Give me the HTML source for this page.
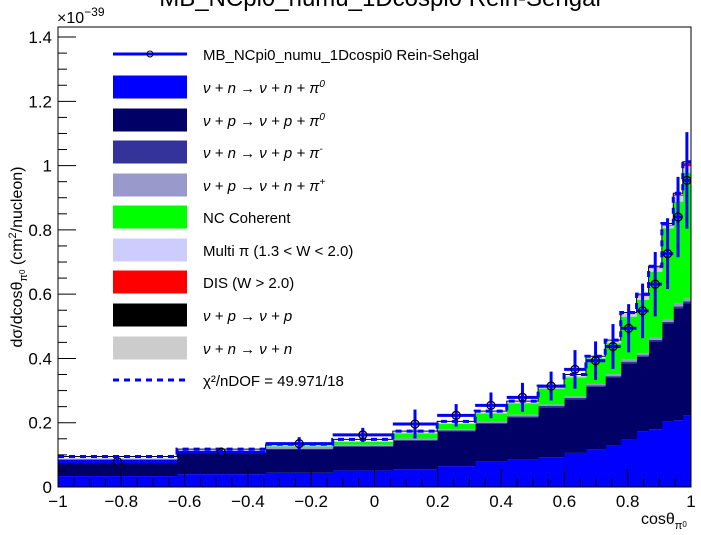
<!DOCTYPE html>
<html><head><meta charset="utf-8">
<style>
html,body{margin:0;padding:0;background:#fff;}
svg{display:block;font-family:"Liberation Sans",sans-serif;}
</style></head>
<body>
<svg id="chart" width="701" height="535" viewBox="0 0 701 535" xmlns="http://www.w3.org/2000/svg">
<text x="380" y="6" text-anchor="middle" font-size="24">MB_NCpi0_numu_1Dcospi0 Rein-Sehgal</text>
<g id="bars"></g>
<g id="mcline"></g>
<g id="data"></g>
<g id="axes"></g>
<g id="legend"></g>
<text x="57" y="23" font-size="16">×10<tspan dy="-7" font-size="12">−39</tspan></text>
<text transform="translate(22,257) rotate(-90)" text-anchor="middle" font-size="16">dσ/dcosθ<tspan dy="5" font-size="11">π</tspan><tspan dy="-2" font-size="8">0</tspan><tspan dy="-3" font-size="16"> (cm</tspan><tspan dy="-6" font-size="11">2</tspan><tspan dy="6" font-size="16">/nucleon)</tspan></text>
<text x="641" y="524" font-size="16">cosθ<tspan dy="5" font-size="11">π</tspan><tspan dy="-2" font-size="8">0</tspan></text>
</svg>
<script>
const edges=[-1,-0.624,-0.344,-0.132,0.058,0.198,0.318,0.418,0.517,0.599,0.668,0.729,0.778,0.828,0.866,0.908,0.944,0.974,1];
const nPi0n=[0.034,0.040,0.044,0.051,0.055,0.065,0.079,0.087,0.093,0.106,0.118,0.128,0.148,0.173,0.180,0.204,0.208,0.222];
const nPi0p=[0.050,0.065,0.073,0.074,0.089,0.108,0.117,0.129,0.155,0.167,0.194,0.213,0.237,0.232,0.273,0.305,0.348,0.350];
const nPiMinus=[0.002,0.002,0.002,0.003,0.003,0.003,0.003,0.004,0.004,0.004,0.004,0.004,0.005,0.005,0.005,0.005,0.006,0.006];
const nPiPlus=[0.002,0.003,0.003,0.004,0.004,0.004,0.005,0.005,0.005,0.005,0.006,0.006,0.006,0.006,0.007,0.007,0.008,0.008];
const coherent=[0.000,0.000,0.004,0.008,0.016,0.016,0.025,0.035,0.049,0.059,0.078,0.096,0.134,0.166,0.205,0.284,0.318,0.392];
const multiPi=[0.003,0.004,0.003,0.004,0.003,0.004,0.003,0.003,0.004,0.005,0.003,0.006,0.008,0.012,0.011,0.008,0.018,0.020];
const dis=[0,0,0,0,0,0,0,0,0,0,0,0,0.001,0.002,0.002,0.003,0.004,0.010];
const dataVal=[0.079,0.108,0.135,0.162,0.196,0.223,0.254,0.279,0.314,0.366,0.393,0.437,0.494,0.548,0.631,0.726,0.840,0.954];
const dataErr=[0.010,0.015,0.020,0.022,0.045,0.035,0.040,0.045,0.045,0.060,0.060,0.070,0.075,0.085,0.100,0.110,0.125,0.150];
const yTicks=[0,0.2,0.4,0.6,0.8,1,1.2,1.4];
const xTicks=[-1,-0.8,-0.6,-0.4,-0.2,0,0.2,0.4,0.6,0.8,1];
const xTickLabels=["−1","−0.8","−0.6","−0.4","−0.2","0","0.2","0.4","0.6","0.8","1"];
const yTickLabels=["0","0.2","0.4","0.6","0.8","1","1.2","1.4"];

const NS="http://www.w3.org/2000/svg";
const X0=58,X1=691,Y0=487,YT=27;
const xs=v=>X0+(v+1)/2*(X1-X0);
const ys=v=>Y0-v*321.4;
function mk(tag,attrs,parent){const e=document.createElementNS(NS,tag);for(const k in attrs)e.setAttribute(k,attrs[k]);parent.appendChild(e);return e;}

const layers=[[nPi0n,"#0000ff","pi0-n"],[nPi0p,"#000066","pi0-p"],[nPiMinus,"#333399","piminus"],[nPiPlus,"#9999cc","piplus"],[coherent,"#00ff00","coherent"],[multiPi,"#ccccff","multipi"],[dis,"#ff0000","dis"]];
const bars=document.getElementById("bars");
const cum=new Array(dataVal.length).fill(0);
layers.forEach(([arr,col,nm])=>{
  for(let i=0;i<arr.length;i++){
    const lo=cum[i],hi=cum[i]+arr[i];cum[i]=hi;
    if(arr[i]<=0)continue;
    const r=mk("rect",{x:xs(edges[i]),y:ys(hi),width:xs(edges[i+1])-xs(edges[i])+0.5,height:ys(lo)-ys(hi),fill:col},bars);
    
    
  }
});
// MC total dashed line
let d="";
for(let i=0;i<cum.length;i++){const y=ys(cum[i]+0.004);d+=(i==0?"M":"L")+xs(edges[i])+","+y+"L"+xs(edges[i+1])+","+y;}
const ml=document.getElementById("mcline");
const bl=mk("path",{d:d,fill:"none",stroke:"#000",'stroke-width':1},ml);


const dl=mk("path",{d:d,fill:"none",stroke:"#0000ff",'stroke-width':3,'stroke-dasharray':"6,5"},ml);



// data
const dg=document.getElementById("data");
for(let i=0;i<dataVal.length;i++){
  const cx=(xs(edges[i])+xs(edges[i+1]))/2,cy=ys(dataVal[i]);
  const g=mk("g",{},dg);
  
  
  mk("line",{x1:xs(edges[i]),x2:xs(edges[i+1]),y1:cy,y2:cy,stroke:"#0000ff",'stroke-width':3},g);
  mk("line",{x1:cx,x2:cx,y1:ys(dataVal[i]-dataErr[i]),y2:ys(dataVal[i]+dataErr[i]),stroke:"#0000ff",'stroke-width':3},g);
  mk("circle",{cx:cx,cy:cy,r:4,fill:"none",stroke:"#000",'stroke-width':1.3},g);
}

// axes
const ax=document.getElementById("axes");
mk("rect",{x:X0,y:YT,width:X1-X0,height:Y0-YT,fill:"none",stroke:"#000",'stroke-width':1},ax);
for(let v=0;v<=1.4001;v+=0.05){const y=ys(v);const major=Math.abs(v/0.2-Math.round(v/0.2))<1e-6;mk("line",{x1:X0,x2:X0+(major?18:9),y1:y,y2:y,stroke:"#000"},ax);}
yTicks.forEach((v,i)=>{const t=mk("text",{x:X0-6,y:ys(v)+6,'text-anchor':"end",'font-size':17},ax);t.textContent=yTickLabels[i];
  
  });
for(let k=0;k<=40;k++){const v=-1+k*0.05;const x=xs(v);const major=k%4==0;mk("line",{x1:x,x2:x,y1:Y0,y2:Y0-(major?18:9),stroke:"#000"},ax);}
xTicks.forEach((v,i)=>{const t=mk("text",{x:xs(v),y:Y0+20,'text-anchor':"middle",'font-size':17},ax);t.textContent=xTickLabels[i];
  
  });

// legend
const lg=document.getElementById("legend");
const leg=[["line","MB_NCpi0_numu_1Dcospi0 Rein-Sehgal",""],["#0000ff","ν + n → ν + n + π","0"],["#000066","ν + p → ν + p + π","0"],["#333399","ν + n → ν + p + π","-"],["#9999cc","ν + p → ν + n + π","+"],["#00ff00","NC Coherent",""],["#ccccff","Multi π (1.3 < W < 2.0)",""],["#ff0000","DIS (W > 2.0)",""],["#000000","ν + p → ν + p",""],["#cccccc","ν + n → ν + n",""],["dash","χ²/nDOF = 49.971/18",""]];
const rowsY=[54,87,120,152,185,217,250,282,315,348,380];
leg.forEach((e,i)=>{
  const y=rowsY[i];
  const g=mk("g",{},lg);
  
  
  if(e[0]=="line"){mk("line",{x1:113,x2:187,y1:y,y2:y,stroke:"#0000ff",'stroke-width':3},g);mk("circle",{cx:150,cy:y,r:3,fill:"none",stroke:"#000"},g);}
  else if(e[0]=="dash"){mk("line",{x1:113,x2:187,y1:y,y2:y,stroke:"#0000ff",'stroke-width':3,'stroke-dasharray':"6,5"},g);}
  else mk("rect",{x:113,y:y-11.5,width:74,height:23,fill:e[0]},g);
  const italic=e[1].startsWith("ν");
  const t=mk("text",{x:203,y:y+6,'font-size':15,'font-style':italic?"italic":"normal"},g);
  t.textContent=e[1];
  if(e[2]){const s=mk("tspan",{dy:-6,'font-size':10},t);s.textContent=e[2];}
});
</script>
</body></html>
